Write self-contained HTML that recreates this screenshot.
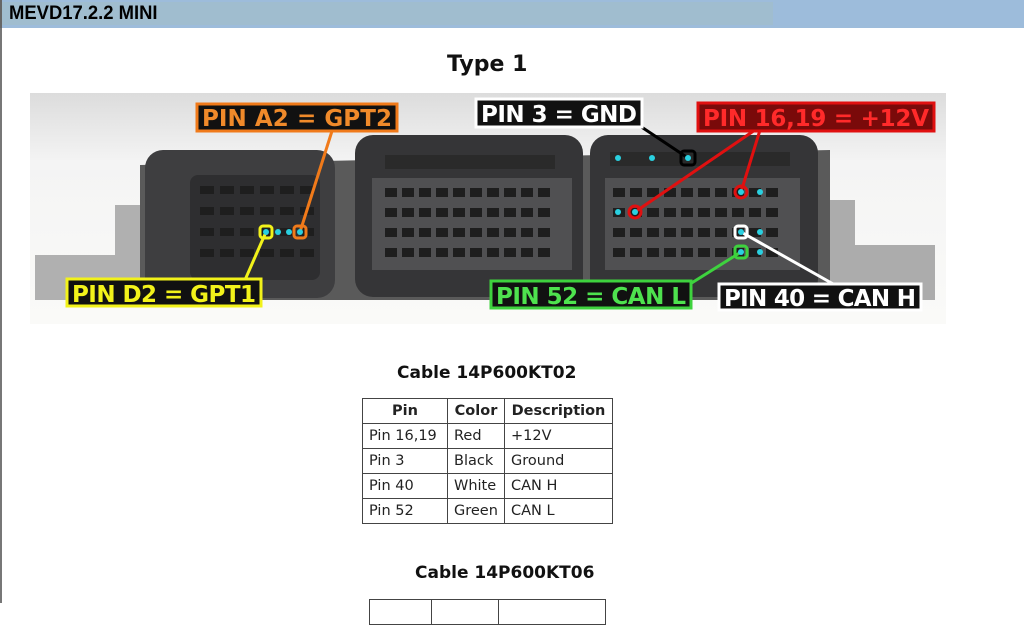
<!DOCTYPE html>
<html><head><meta charset="utf-8"><style>
*{margin:0;padding:0;box-sizing:border-box}
body{width:1024px;height:603px;overflow:hidden;background:#fff;font-family:"Liberation Sans",sans-serif;position:relative}
.bar{position:absolute;left:0;top:0;width:1024px;height:28px;background:#9dbcdb;border-left:2px solid #666}
.bar .in{position:absolute;left:0;top:2px;width:771px;height:23px;background:#a0bdcf}
.bar span{position:absolute;left:7px;top:3px;font-weight:bold;font-size:19px;color:#000;transform:scaleX(.97);transform-origin:left}
.lb{position:absolute;left:0;top:28px;width:2px;height:575px;background:#777}
.t{position:absolute;font-family:"DejaVu Sans",sans-serif;font-weight:bold;color:#111;white-space:nowrap}
table{position:absolute;border-collapse:collapse;font-family:"DejaVu Sans",sans-serif;font-size:14.5px;color:#222}
td,th{border:1px solid #444;padding:0 6px;height:25px;text-align:left;white-space:nowrap}
th{text-align:center}
</style></head><body>
<div class="bar"><div class="in"></div><span>MEVD17.2.2 MINI</span></div>
<div class="lb"></div>
<div class="t" style="left:447px;top:52px;font-size:22px">Type 1</div>
<svg style="position:absolute;left:30px;top:93px" width="916" height="231" viewBox="30 93 916 231">
<defs><linearGradient id="bg" x1="0" y1="0" x2="0" y2="1"><stop offset="0" stop-color="#dcdcdc"/><stop offset=".3" stop-color="#f4f4f4"/><stop offset="1" stop-color="#fafaf8"/></linearGradient></defs>
<rect x="30" y="93" width="916" height="231" fill="url(#bg)"/>
<path d="M35 255 h80 v-50 h35 v95 h-115z" fill="#b0b0b0"/>
<path d="M815 200 h40 v45 h80 v55 h-120z" fill="#acacac"/>
<path d="M140 165 L830 150 L830 300 L140 300z" fill="#5a5a5a"/>
<rect x="145" y="150" width="190" height="148" rx="18" fill="#3e3e40"/>
<rect x="190" y="175" width="130" height="105" rx="8" fill="#2e2e30"/>
<rect x="355" y="135" width="228" height="162" rx="18" fill="#353537"/>
<rect x="372" y="178" width="200" height="92" fill="#505052"/>
<rect x="590" y="135" width="228" height="162" rx="18" fill="#353537"/>
<rect x="605" y="178" width="195" height="92" fill="#505052"/>
<g fill="#1e1e1e">
<g id="rl"><rect x="200" y="186" width="14" height="8"/><rect x="220" y="186" width="14" height="8"/><rect x="240" y="186" width="14" height="8"/><rect x="260" y="186" width="14" height="8"/><rect x="280" y="186" width="14" height="8"/><rect x="300" y="186" width="14" height="8"/></g>
<use href="#rl" y="21"/><use href="#rl" y="42"/><use href="#rl" y="63"/>
<g id="rm"><rect x="385" y="188" width="12" height="9"/><rect x="402" y="188" width="12" height="9"/><rect x="419" y="188" width="12" height="9"/><rect x="436" y="188" width="12" height="9"/><rect x="453" y="188" width="12" height="9"/><rect x="470" y="188" width="12" height="9"/><rect x="487" y="188" width="12" height="9"/><rect x="504" y="188" width="12" height="9"/><rect x="521" y="188" width="12" height="9"/><rect x="538" y="188" width="12" height="9"/></g>
<use href="#rm" y="20"/><use href="#rm" y="40"/><use href="#rm" y="60"/>
<use href="#rm" x="228"/><use href="#rm" x="228" y="20"/><use href="#rm" x="228" y="40"/><use href="#rm" x="228" y="60"/>
<rect x="385" y="155" width="170" height="14" fill="#2a2a2a"/>
<rect x="610" y="152" width="180" height="14" fill="#2a2a2a"/>
</g>
<g stroke-width="3" fill="none">
<line x1="300" y1="232" x2="332" y2="131" stroke="#f07a1a"/>
<line x1="266" y1="232" x2="245" y2="280" stroke="#f2f21a"/>
<line x1="688" y1="158" x2="640" y2="126" stroke="#000"/>
<line x1="755" y1="130" x2="635" y2="212" stroke="#e01010"/>
<line x1="760" y1="130" x2="741" y2="192" stroke="#e01010"/>
<line x1="741" y1="232" x2="835" y2="285" stroke="#fff"/>
<line x1="741" y1="252" x2="690" y2="284" stroke="#3ed23e"/>
<rect x="260" y="226" width="12" height="12" rx="3" stroke="#f2f21a"/>
<rect x="294" y="226" width="12" height="12" rx="3" stroke="#f07a1a"/>
<rect x="681" y="151" width="14" height="14" rx="3" stroke="#000"/>
<circle cx="741" cy="192" r="6" stroke="#e01010"/>
<circle cx="635" cy="212" r="6" stroke="#e01010"/>
<rect x="735" y="226" width="12" height="12" rx="3" stroke="#fff"/>
<rect x="735" y="246" width="12" height="12" rx="3" stroke="#3ed23e"/>
</g>
<g fill="#2ad0e0">
<circle cx="266" cy="232" r="3"/><circle cx="278" cy="232" r="3"/><circle cx="289" cy="232" r="3"/><circle cx="300" cy="232" r="3"/>
<circle cx="618" cy="158" r="3"/><circle cx="652" cy="158" r="3"/><circle cx="688" cy="158" r="3"/>
<circle cx="741" cy="192" r="3"/><circle cx="760" cy="192" r="3"/><circle cx="618" cy="212" r="3"/><circle cx="635" cy="212" r="3"/>
<circle cx="741" cy="232" r="3"/><circle cx="760" cy="232" r="3"/><circle cx="741" cy="252" r="3"/><circle cx="760" cy="252" r="3"/>
</g>
<g font-family="DejaVu Sans,sans-serif" font-weight="bold" font-size="23">
<rect x="197" y="104" width="200" height="27" fill="#111" stroke="#f07a1a" stroke-width="3"/><text x="202" y="126" fill="#f08a2a" textLength="190">PIN A2 = GPT2</text>
<rect x="476" y="99" width="166" height="28" fill="#111" stroke="#fff" stroke-width="3"/><text x="481" y="122" fill="#fff" textLength="156">PIN 3 = GND</text>
<rect x="698" y="103" width="236" height="28" fill="#7a0a0a" stroke="#e01010" stroke-width="3"/><text x="703" y="126" fill="#ff2a2a" textLength="226">PIN 16,19 = +12V</text>
<rect x="67" y="279" width="194" height="27" fill="#111" stroke="#f2f21a" stroke-width="3"/><text x="72" y="302" fill="#f2f21a" textLength="184">PIN D2 = GPT1</text>
<rect x="491" y="281" width="200" height="27" fill="#111" stroke="#3ed23e" stroke-width="3"/><text x="496" y="304" fill="#4ee24e" textLength="190">PIN 52 = CAN L</text>
<rect x="719" y="284" width="202" height="26" fill="#111" stroke="#fff" stroke-width="3"/><text x="724" y="306" fill="#fff" textLength="192">PIN 40 = CAN H</text>
</g>
</svg>
<div class="t" style="left:397px;top:363px;font-size:17px">Cable 14P600KT02</div>
<table style="left:362px;top:398px;width:251px">
<tr><th style="width:85px">Pin</th><th style="width:57px">Color</th><th>Description</th></tr>
<tr><td>Pin 16,19</td><td>Red</td><td>+12V</td></tr>
<tr><td>Pin 3</td><td>Black</td><td>Ground</td></tr>
<tr><td>Pin 40</td><td>White</td><td>CAN H</td></tr>
<tr><td>Pin 52</td><td>Green</td><td>CAN L</td></tr>
</table>
<div class="t" style="left:415px;top:563px;font-size:17px">Cable 14P600KT06</div>
<table style="left:369px;top:599px;width:237px">
<tr><td style="width:62px"></td><td style="width:67px"></td><td></td></tr>
</table>
</body></html>
